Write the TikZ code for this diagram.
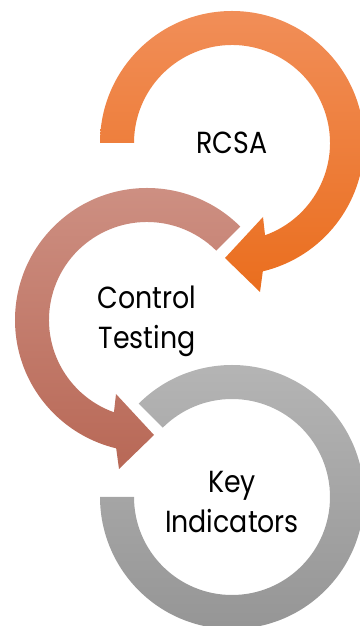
\documentclass[tikz,border=0pt]{standalone}
\usepackage{fontspec}
\setmainfont{Poppins}[FakeStretch=0.88]
\usetikzlibrary{calc}
\definecolor{oTop}{RGB}{241,142,88}
\definecolor{oBot}{RGB}{234,110,30}
\definecolor{pTop}{RGB}{206,145,132}
\definecolor{pBot}{RGB}{184,104,86}
\definecolor{gTop}{RGB}{182,182,182}
\definecolor{gBot}{RGB}{148,148,148}
\tikzset{
  label text/.style={font=\fontsize{30.5}{40}\selectfont, align=center, text=black, inner sep=0pt}
}
\begin{document}
\begin{tikzpicture}[x=1pt,y=1pt]
\useasboundingbox (0,0) rectangle (359,626);
\coordinate (C1) at (232,483);
\coordinate (C2) at (147,306);
\coordinate (C3) at (232,129);
% circle 3 (no head)
\shade[top color=gTop, bottom color=gBot]
  ($(C3)+(135:132pt)$) arc[start angle=135, end angle=-180, radius=132pt]
  -- ($(C3)+(180:98pt)$) arc[start angle=-180, end angle=135, radius=98pt] -- cycle;
% circle 2 (counter-clockwise, head at bottom)
\shade[top color=pTop, bottom color=pBot]
  ($(C2)+(45:132pt)$) arc[start angle=45, end angle=256.5, radius=132pt]
  -- ($(C2)+(-28pt,-149pt)$) -- ($(C2)+(7pt,-115pt)$) -- ($(C2)+(-31pt,-74pt)$)
  -- ($(C2)+(250.3:98pt)$) arc[start angle=250.3, end angle=45, radius=98pt] -- cycle;
% circle 1 (clockwise, head at bottom)
\shade[top color=oTop, bottom color=oBot]
  ($(C1)+(180:132pt)$) arc[start angle=180, end angle=-76.5, radius=132pt]
  -- ($(C1)+(28pt,-149pt)$) -- ($(C1)+(-7pt,-115pt)$) -- ($(C1)+(31pt,-74pt)$)
  -- ($(C1)+(-70.3:98pt)$) arc[start angle=-70.3, end angle=180, radius=98pt] -- cycle;
\node[label text] (t1) at (232,483) {RCSA};
\node[label text] (t2) at (147,305) {Control\\Testing};
\node[label text] (t3) at (232,124) {Key\\Indicators};
\end{tikzpicture}
\end{document}
